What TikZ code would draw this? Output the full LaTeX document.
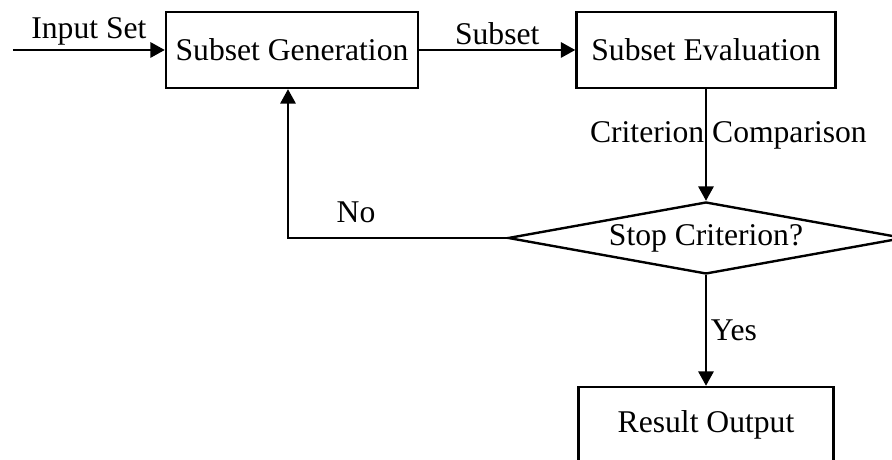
\documentclass[tikz,border=0pt]{standalone}
\usepackage{fontspec}
\setmainfont{Liberation Serif}
\usepackage{tikz}
\usetikzlibrary{calc}
\usetikzlibrary{arrows.meta}
\usetikzlibrary{shapes.geometric}
\tikzset{%
  myedge/.style={->, line width=1.7pt, >={Triangle[length=0.36cm, width=0.38cm]}},
  mybox/.style={rectangle, draw=black, line width=1.7pt, minimum height=1.9cm},
  mydiamond/.style={diamond, draw=black, line width=1.7pt, inner sep=0pt, aspect=5.5,
    minimum width=9.9cm, minimum height=1.8cm}
}

\begin{document}
\begin{tikzpicture}[font=\fontsize{22.5}{27}\selectfont]

\useasboundingbox (0,0) rectangle (22.3,11.5);

\coordinate (in) at (0.325, 10.25);

\node (gen) [mybox, minimum width=6.3cm] at (7.3, 10.25) {Subset Generation};
\node (eval) [mybox, minimum width=6.475cm] at (17.65, 10.25) {Subset Evaluation};
\node (stop) [mydiamond] at (17.65, 5.55) {Stop Criterion?};
\node (res) [mybox, minimum width=6.375cm] at (17.65, 0.875) {Result Output};

% 矢印
\draw [myedge] (in) -- (gen.west);
\draw [myedge] (gen.east) -- (eval.west);
\draw [myedge] (eval.south) -- (stop.north);
\draw [myedge] (stop.south) -- (res.north);
\draw [myedge] (stop.west) -| ([xshift=-0.1cm]gen.south);

\node (lin) [above] at ($(in)!0.5!(gen.west)$) {Input Set};
\node (lsub) [above] at ($(gen.east)!0.5!(eval.west)$) {Subset};
\node (lcmp) at (18.21, 8.125) {Criterion Comparison};
\node (lno) at (8.9, 6.2) {No};
\node (lyes) [right] at ($(stop.south)!0.5!(res.north)$) {Yes};
\end{tikzpicture}
\end{document}
